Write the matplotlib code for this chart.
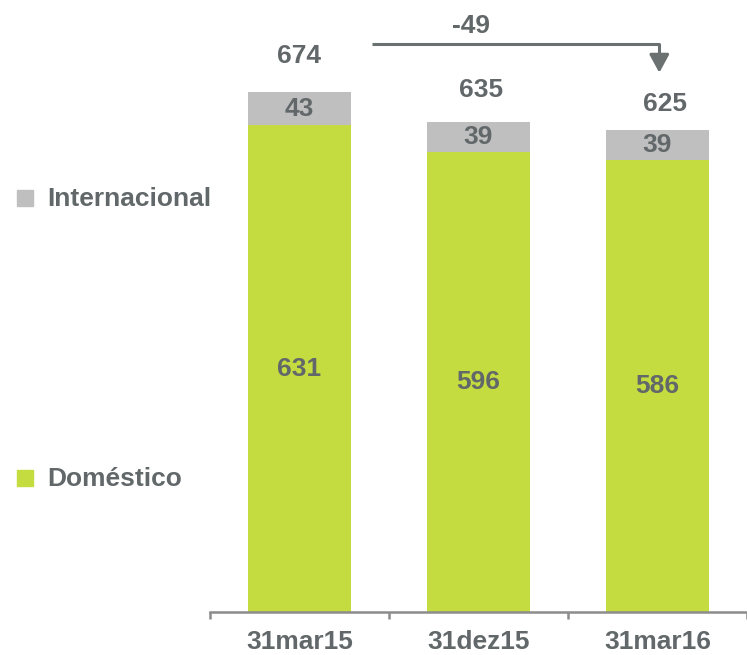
import matplotlib.pyplot as plt
from matplotlib.patches import Rectangle

plt.rcParams['font.family'] = ['Liberation Sans', 'DejaVu Sans']
plt.rcParams['font.weight'] = 'bold'

categories = ['31mar15', '31dez15', '31mar16']
domestico = [631, 596, 586]
internacional = [43, 39, 39]
totais = [674, 635, 625]
variacao = '-49'

verde = '#c4dc3f'
cinza = '#bfbfbf'
texto = '#62686a'
linha = '#8c8c8c'

fig = plt.figure(figsize=(7.47, 6.55), dpi=100)
ax = fig.add_axes([210 / 747, 43 / 655, 537 / 747, 612 / 655])

x = range(len(categories))
w = 0.572
ax.bar(x, domestico, width=w, color=verde)
ax.bar(x, internacional, width=w, bottom=domestico, color=cinza)

# valores dentro das barras
for i in x:
    ax.text(i, domestico[i] / 2, str(domestico[i]), ha='center', va='center',
            fontsize=19, color=texto)
    ax.text(i, domestico[i] + internacional[i] / 2, str(internacional[i]),
            ha='center', va='center', fontsize=19, color=texto)

# totais acima das barras
desloc = [47, 41, 34]
dx = [0.0, 0.015, 0.04]
for i in x:
    ax.text(i + dx[i], totais[i] + desloc[i], str(totais[i]), ha='center',
            va='center', fontsize=19, color=texto)

# seta de variacao
ax.plot([0.406, 2.01, 2.01], [736, 736, 718], color='#6b7070', lw=2.2,
        solid_capstyle='butt', clip_on=False)
ax.annotate('', xy=(2.01, 699), xytext=(2.01, 722),
            arrowprops=dict(arrowstyle='-|>,head_width=0.6,head_length=1.1',
                            color='#6b7070', lw=2.2, shrinkA=0, shrinkB=0))
ax.text(0.96, 759, variacao, ha='center', va='center', fontsize=19, color=texto)

ax.set_xlim(-0.5, (747 - 210) / 180 - 0.5)
ax.set_ylim(0, 612 / 0.7715)
for s in ['top', 'right', 'left']:
    ax.spines[s].set_visible(False)
ax.spines['bottom'].set_color(linha)
ax.spines['bottom'].set_linewidth(1.8)
ax.set_yticks([])
ax.set_xticks(list(x))
ax.set_xticklabels(categories, fontsize=19, color=texto)
ax.tick_params(axis='x', which='major', length=0, pad=13)
ax.set_xticks([-0.5, 0.5, 1.5, 2.5], minor=True)
ax.tick_params(axis='x', which='minor', length=5, width=1.8, color=linha,
               direction='out')

# legenda
for nome, cor, yc in [('Internacional', cinza, 198), ('Doméstico', verde, 478)]:
    fig.add_artist(Rectangle((17 / 747, 1 - (yc + 8) / 655), 16 / 747, 16 / 655,
                             color=cor, transform=fig.transFigure))
    fig.text(47 / 747, 1 - (yc + 1) / 655, nome, ha='left', va='center',
             fontsize=19, color=texto)

plt.savefig('out.png', dpi=100)
